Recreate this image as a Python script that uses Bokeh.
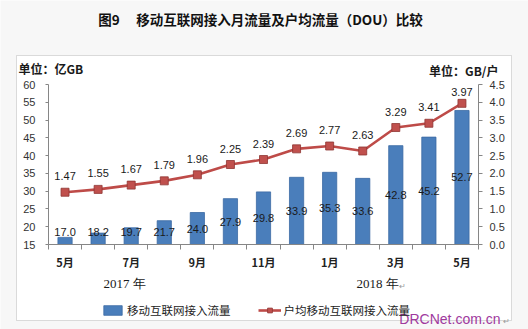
import numpy as np
from bokeh.plotting import figure
from bokeh.models import (Range1d, LinearAxis, FixedTicker, Label, Legend, LegendItem,
                          BoxAnnotation, ColumnDataSource)
from bokeh.core.properties import value
from bokeh.embed import file_html
from bokeh.resources import INLINE

# ---------------- data ----------------
months = ["5月", "6月", "7月", "8月", "9月", "10月", "11月", "12月", "1月", "2月", "3月", "4月", "5月"]
traffic = [17.0, 18.2, 19.7, 21.7, 24.0, 27.9, 29.8, 33.9, 35.3, 33.6, 42.8, 45.2, 52.7]   # 亿GB
dou = [1.47, 1.55, 1.67, 1.79, 1.96, 2.25, 2.39, 2.69, 2.77, 2.63, 3.29, 3.41, 3.97]      # GB/户
left_ticks = [15, 20, 25, 30, 35, 40, 45, 50, 55, 60]
right_ticks = [0.0, 0.5, 1.0, 1.5, 2.0, 2.5, 3.0, 3.5, 4.0, 4.5]
years = ["2017 年", "2018 年"]
title_text = "图9　 移动互联网接入月流量及户均流量（DOU）比较"
unit_left = "单位：亿GB"
unit_right = "单位：GB/户"
series_names = ["移动互联网接入流量", "户均移动互联网接入流量"]
watermark = "DRCNet.com.cn"

# ---------------- layout constants (page pixels) ----------------
W, H = 528, 329
FL, FR, FT, FB = 48, 478, 84, 244        # plot-area edges
YMIN, YMAX = left_ticks[0], left_ticks[-1]
RMIN, RMAX = right_ticks[0], right_ticks[-1]
n = len(months)
dx = (FR - FL) / n
dy = (FB - FT) / (YMAX - YMIN)
dr = (FB - FT) / (RMAX - RMIN)

BAR = "#4a7ebb"
BAR_EDGE = "#3b6aa3"
LINE = "#be4b48"
MARK_EDGE = "#8e3532"
TXT = "#1a1a1a"
AXC = "#868686"
CJK = "Noto Sans CJK SC"
LAT = "Liberation Sans"

x = np.arange(1, n + 1)

p = figure(width=W, height=H, output_backend="svg", toolbar_location=None,
           x_range=Range1d(0.5 - FL / dx, n + 0.5 + (W - FR) / dx),
           y_range=Range1d(YMIN - (H - FB) / dy, YMAX + FT / dy),
           min_border=0)
p.extra_y_ranges = {"dou": Range1d(RMIN - (H - FB) / dr, RMAX + FT / dr)}
p.background_fill_color = "#f7f7f7"
p.border_fill_color = "#f7f7f7"
p.outline_line_color = None
p.xgrid.visible = False
p.ygrid.visible = False

# white panel with gray border
box = BoxAnnotation(left=16, right=511, top=H - 55, bottom=H - 320,
                    left_units="screen", right_units="screen",
                    top_units="screen", bottom_units="screen",
                    fill_color="white", fill_alpha=1.0,
                    line_color="#8f8f8f", line_width=1, level="underlay")
p.add_layout(box)

# ---------------- axes ----------------
ax = p.xaxis[0]
ax.fixed_location = YMIN
ax.bounds = (0.5, n + 0.5)
ax.ticker = FixedTicker(ticks=list(x[::2]), minor_ticks=list(np.arange(0.5, n + 1, 1.0)))
ax.major_label_overrides = {int(i): months[int(i) - 1] for i in x[::2]}
ax.major_tick_out = 0
ax.major_tick_in = 0
ax.minor_tick_out = 5
ax.minor_tick_in = 0
ax.minor_tick_line_color = AXC
ax.axis_line_color = AXC
ax.major_label_standoff = 4
ax.major_label_text_font = CJK
ax.major_label_text_font_size = "11px"
ax.major_label_text_font_style = "bold"
ax.major_label_text_color = "#222222"

ay = p.yaxis[0]
ay.fixed_location = 0.5
ay.bounds = (YMIN, YMAX)
ay.ticker = FixedTicker(ticks=left_ticks)
ay.major_tick_out = 3
ay.major_tick_in = 0
ay.minor_tick_out = 0
ay.minor_tick_in = 0
ay.axis_line_color = AXC
ay.major_tick_line_color = AXC
ay.major_label_standoff = 10
ay.major_label_text_font = LAT
ay.major_label_text_font_size = "11px"
ay.major_label_text_color = "#333333"

ar = LinearAxis(y_range_name="dou", ticker=FixedTicker(ticks=right_ticks))
ar.fixed_location = n + 0.5
ar.bounds = (RMIN, RMAX)
ar.major_label_overrides = {t: f"{t:.1f}" for t in right_ticks}
ar.major_tick_out = 4
ar.major_tick_in = 0
ar.minor_tick_out = 0
ar.minor_tick_in = 0
ar.axis_line_color = AXC
ar.major_tick_line_color = AXC
ar.major_label_standoff = 7
ar.major_label_text_font = LAT
ar.major_label_text_font_size = "11px"
ar.major_label_text_color = "#333333"
p.add_layout(ar, "right")

# ---------------- glyphs ----------------
src = ColumnDataSource(dict(
    x=x, traffic=traffic, dou=dou,
    t_lab=[f"{v:.1f}" for v in traffic],
    d_lab=[f"{v:.2f}" for v in dou],
    t_y=np.maximum((YMIN + np.array(traffic)) / 2.0, YMIN + 3.4),
    d_y=np.minimum(np.array(dou) + 0.45, 4.28),
))

bars = p.vbar(x="x", top="traffic", bottom=YMIN, width=0.43, source=src,
              fill_color=BAR, line_color=BAR_EDGE, line_width=0.8)
line = p.line(x="x", y="dou", source=src, y_range_name="dou",
              line_color=LINE, line_width=2.6)
marks = p.scatter(x="x", y="dou", source=src, y_range_name="dou", marker="square",
                  size=8, fill_color="#c0504d", line_color=MARK_EDGE, line_width=0.8)

p.text(x="x", y="t_y", text="t_lab", source=src, text_align="center",
       text_baseline="middle", text_font=value(LAT), text_font_size="11px",
       text_color=TXT)
p.text(x="x", y="d_y", text="d_lab", source=src, y_range_name="dou",
       text_align="center", text_baseline="middle", text_font=value(LAT),
       text_font_size="11px", text_color=TXT)

# ---------------- legend ----------------
legend = Legend(items=[LegendItem(label=series_names[0], renderers=[bars]),
                       LegendItem(label=series_names[1], renderers=[line, marks])],
                location=(101, H - 318), orientation="horizontal",
                background_fill_alpha=0, border_line_alpha=0,
                padding=0, margin=0, spacing=27, glyph_width=23, glyph_height=12,
                label_height=14, label_standoff=3,
                label_text_font=CJK, label_text_font_size="11.5px",
                label_text_color="#222222")
p.add_layout(legend)


# ---------------- free texts (page pixel positions) ----------------
def clabel(text, cx, cy, align="left", size="12px", font=CJK, style="normal", color=TXT):
    p.add_layout(Label(x=cx, y=H - cy, x_units="screen", y_units="screen",
                       text=text, text_align=align, text_baseline="middle",
                       text_font=font, text_font_size=size, text_font_style=style,
                       text_color=color))


clabel(title_text, 260, 18, align="center", size="13.5px", style="bold", color="#111111")
clabel(unit_left, 18, 68, size="12px", style="bold")
clabel(unit_right, 498, 70, align="right", size="12px", style="bold")
clabel(years[0], 124, 283, align="center", size="13px", font="Liberation Serif")
clabel(years[1], 377, 283, align="center", size="13px", font="Liberation Serif")
clabel("↵", 398, 286, size="8px", font=LAT, color="#999999")
clabel(watermark, 500, 318, align="right", size="14px", font=LAT, color="#a03a9e")
clabel("↵", 502, 321, size="8px", font=LAT, color="#999999")

open("out.html", "w").write(file_html(p, INLINE))
